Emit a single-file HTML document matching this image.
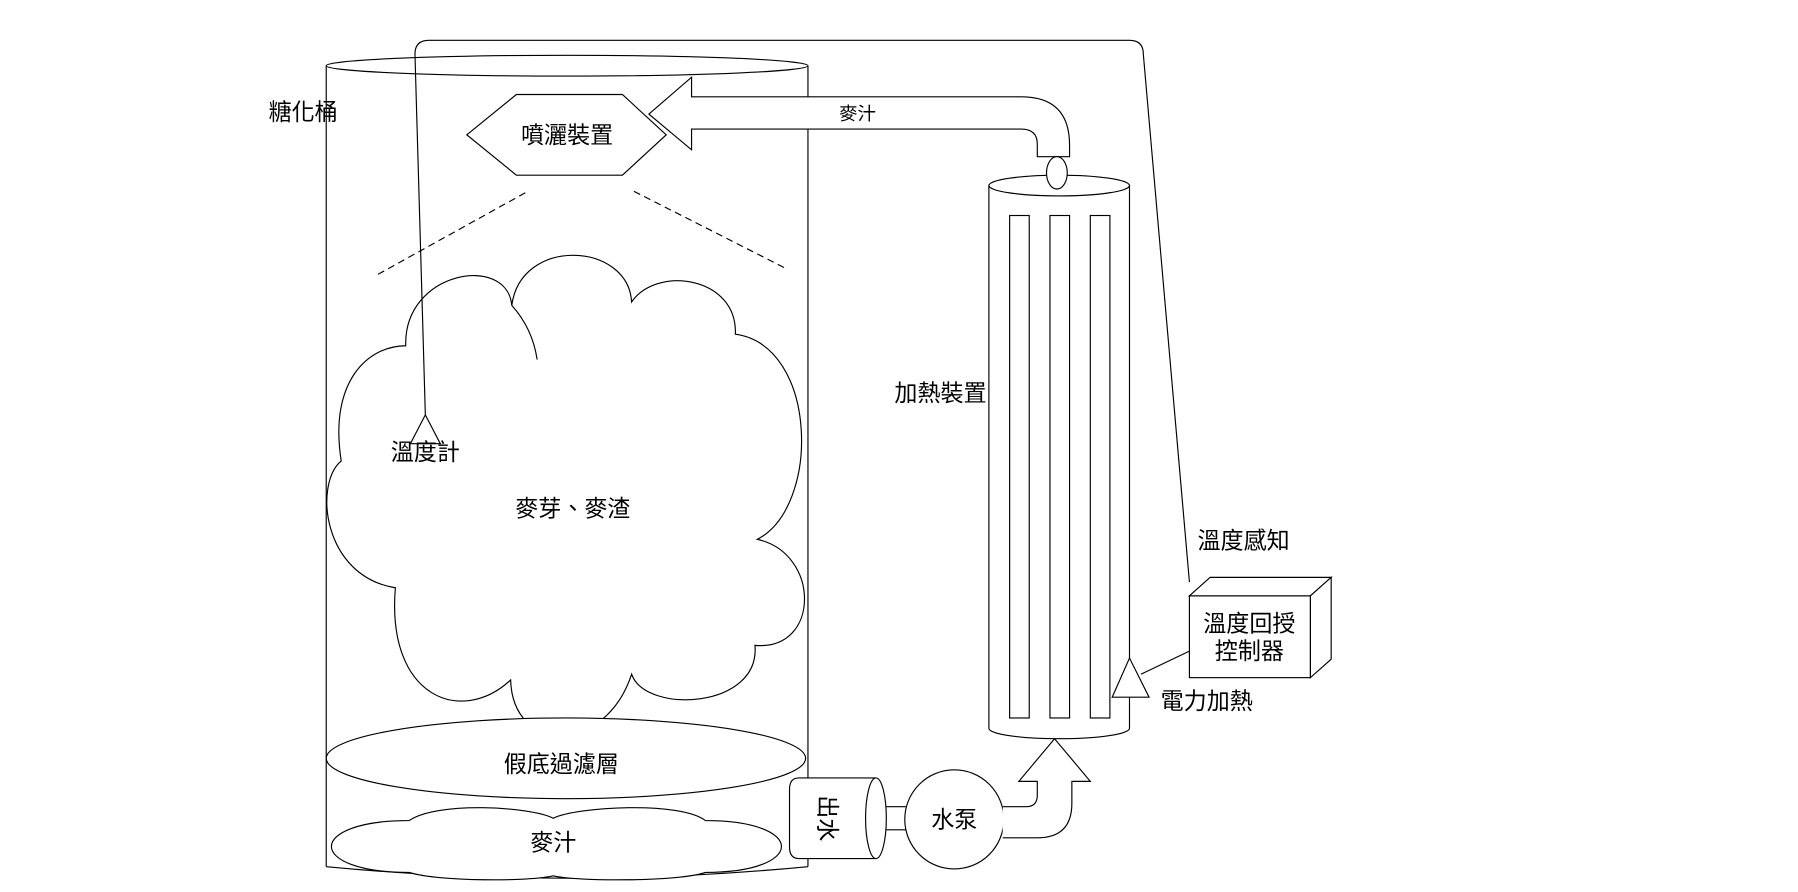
<!DOCTYPE html>
<html><head><meta charset="utf-8"><style>
html,body{margin:0;padding:0;background:#fff;}
svg{display:block}
text{font-family:"Liberation Sans","Noto Sans CJK TC",sans-serif;font-size:20px;fill:#000;}
</style></head><body>
<svg width="1798" height="892" viewBox="0 0 1560 774" xmlns="http://www.w3.org/2000/svg">
<g fill="none" stroke="#000" stroke-width="1">
<line x1="283" y1="57" x2="283" y2="752"/>
<line x1="701" y1="57" x2="701" y2="752"/>
<path d="M283,752 Q492,772 701,752"/>
<path d="M369,360 L360,47 Q360,35 372,35 L980,35 Q992,35 992,47 L1032,505"/>
<ellipse cx="492" cy="57" rx="209" ry="9"/>
<polygon points="405,117 448,82 540,82 578,117 540,152 448,152" fill="#fff"/>
<path d="M563,99 L600,67 L600,84 L886,84 Q928,84 928,126 L928,136 L900,136 L900,125 Q900,112 886,112 L600,112 L600,130 Z" fill="#fff"/>
<line x1="328" y1="238" x2="458" y2="166" stroke-dasharray="6,4"/>
<line x1="550" y1="166" x2="682" y2="233" stroke-dasharray="6,4"/>
<path d="M352,300 C350,235 440,220 444,265 C452,205 545,210 548,262 C570,230 640,240 638,290 C710,300 712,440 657,468 C712,480 712,565 655,560 C660,615 560,620 548,585 C525,655 445,655 443,590 C400,630 335,605 343,510 C280,500 272,420 296,400 C285,330 320,300 352,300 Z"/>
<path d="M444,265 Q462,285 466,312"/>
<polygon points="369,360 356,385 382,385" fill="#fff"/>
<ellipse cx="491" cy="658" rx="208" ry="35" fill="#fff"/>
<path d="M355,712 C380,695 460,700 480,710 C500,700 590,695 612,712 C700,712 700,757 612,757 C590,765 500,765 480,760 C460,765 380,765 355,757 C265,757 265,712 355,712 Z" fill="#fff"/>
<path d="M760,675 L693,675 Q685,675 685,685 L685,735 Q685,745 693,745 L760,745" fill="#fff"/>
<ellipse cx="760" cy="710" rx="9" ry="35" fill="#fff"/>
<line x1="769" y1="700" x2="786" y2="700"/>
<line x1="769" y1="720" x2="786" y2="720"/>
<circle cx="828" cy="711" r="43" fill="#fff"/>
<path d="M870,700 L890,700 Q900,700 900,690 L900,678 L884,678 L915,641 L946,678 L930,678 L930,697 Q930,727 900,727 L870,727" fill="#fff"/>
<path d="M858,161 L858,632 A61,9 0 0 0 980,632 L980,161" fill="#fff"/>
<ellipse cx="919" cy="161" rx="61" ry="9" fill="#fff"/>
<ellipse cx="917" cy="150" rx="9" ry="14" fill="#fff"/>
<rect x="876" y="187" width="17" height="436"/>
<rect x="911" y="187" width="17" height="436"/>
<rect x="946" y="187" width="17" height="436"/>
<polygon points="980,571 965,605 997,605" fill="#fff"/>
<line x1="990" y1="585" x2="1032" y2="565"/>
<rect x="1032" y="517" width="105" height="71" fill="#fff"/>
<polygon points="1032,517 1050,501 1155,501 1137,517" fill="#fff"/>
<polygon points="1137,517 1155,501 1155,572 1137,588" fill="#fff"/>
</g>
<text x="233" y="104">糖化桶</text>
<text x="492" y="124" text-anchor="middle">噴灑裝置</text>
<text x="744" y="104" text-anchor="middle" style="font-size:16px">麥汁</text>
<text x="369" y="399" text-anchor="middle">溫度計</text>
<text x="497" y="448" text-anchor="middle">麥芽、麥渣</text>
<text x="487" y="670" text-anchor="middle">假底過濾層</text>
<text x="480" y="738" text-anchor="middle">麥汁</text>
<text x="816" y="348" text-anchor="middle">加熱裝置</text>
<text x="1079" y="476" text-anchor="middle">溫度感知</text>
<text x="1084" y="548" text-anchor="middle">溫度回授</text>
<text x="1084" y="572" text-anchor="middle">控制器</text>
<text x="1047" y="615" text-anchor="middle">電力加熱</text>
<text x="828" y="718" text-anchor="middle">水泵</text>
<text transform="translate(718,710) rotate(90)" text-anchor="middle" y="7">出水</text>
</svg>
</body></html>
